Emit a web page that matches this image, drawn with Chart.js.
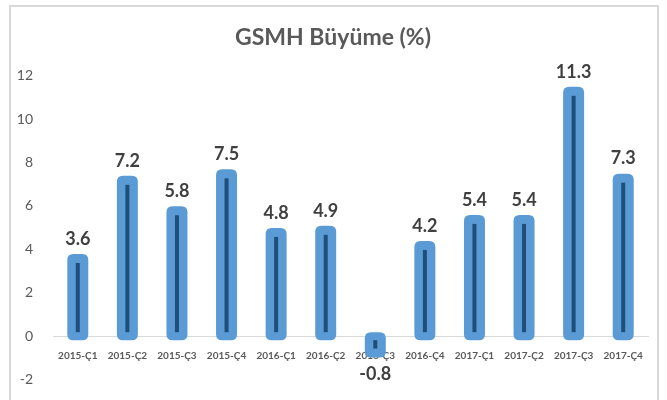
<!DOCTYPE html>
<html>
<head>
<meta charset="utf-8">
<script src="https://cdn.jsdelivr.net/npm/chart.js@4"></script>
<style>
  body { margin: 0; background: #fff; }
  #frame { position: absolute; left: 9px; top: 5px; width: 650px; height: 420px; border: 2px solid #d9d9d9; box-sizing: border-box; }
  #wrap { position: absolute; left: 0; top: 0; width: 667px; height: 400px; }
</style>
</head>
<body>
<div id="frame"></div>
<div id="wrap"><canvas id="chartGsmh" width="667" height="400"></canvas></div>
<script>
const quarters = ['2015-Ç1', '2015-Ç2', '2015-Ç3', '2015-Ç4', '2016-Ç1', '2016-Ç2',
                  '2016-Ç3', '2016-Ç4', '2017-Ç1', '2017-Ç2', '2017-Ç3', '2017-Ç4'];
const growth = [3.6, 7.2, 5.8, 7.5, 4.8, 4.9, -0.8, 4.2, 5.4, 5.4, 11.3, 7.3];
const yTicks = [-2, 0, 2, 4, 6, 8, 10, 12];

const fontFam = 'Lato, "Open Sans", sans-serif';
const barBlue = '#5b9bd5';
const darkBlue = '#1f4e79';

function roundRect(c, x, y, w, h, r) {
  c.beginPath();
  c.moveTo(x + r, y);
  c.lineTo(x + w - r, y);
  c.quadraticCurveTo(x + w, y, x + w, y + r);
  c.lineTo(x + w, y + h - r);
  c.quadraticCurveTo(x + w, y + h, x + w - r, y + h);
  c.lineTo(x + r, y + h);
  c.quadraticCurveTo(x, y + h, x, y + h - r);
  c.lineTo(x, y + r);
  c.quadraticCurveTo(x, y, x + r, y);
  c.closePath();
}

// glow around each bar + dark core line + value labels
const barStyle = {
  id: 'barStyle',
  beforeDatasetsDraw(chart) {
    const c = chart.ctx;
    const meta = chart.getDatasetMeta(0);
    c.save();
    c.fillStyle = barBlue;
    meta.data.forEach((bar) => {
      const top = Math.min(bar.y, bar.base) - 4;
      const bot = Math.max(bar.y, bar.base) + 4;
      roundRect(c, bar.x - bar.width / 2 - 4, top, bar.width + 8, bot - top, 6);
      c.fill();
    });
    c.restore();
  },
  afterDatasetsDraw(chart) {
    const c = chart.ctx;
    const meta = chart.getDatasetMeta(0);
    c.save();
    c.fillStyle = darkBlue;
    meta.data.forEach((bar, i) => {
      const neg = growth[i] < 0;
      const top = neg ? bar.base + 4 : bar.y + 5;
      const bot = neg ? bar.y - 5 : bar.base - 4;
      c.fillRect(bar.x - 2, top, 4, bot - top);
    });
    c.fillStyle = '#404040';
    c.font = 'bold 18px ' + fontFam;
    c.textAlign = 'center';
    meta.data.forEach((bar, i) => {
      const neg = growth[i] < 0;
      c.textBaseline = neg ? 'top' : 'bottom';
      c.fillText(growth[i].toFixed(1), bar.x, neg ? bar.y + 12 : bar.y - 10);
    });
    c.restore();
  }
};

const ctx = document.getElementById('chartGsmh').getContext('2d');
const myChart = new Chart(ctx, {
  type: 'bar',
  data: {
    labels: quarters,
    datasets: [{
      label: 'GSMH Büyüme (%)',
      data: growth,
      backgroundColor: barBlue,
      barThickness: 13,
      borderRadius: 2,
      borderSkipped: false
    }]
  },
  options: {
    responsive: false,
    animation: false,
    layout: { padding: { left: 18, right: 19, top: 0, bottom: 16 } },
    plugins: {
      legend: { display: false },
      tooltip: { enabled: false },
      title: {
        display: true,
        text: 'GSMH Büyüme (%)',
        color: '#595959',
        font: { family: fontFam, size: 23, weight: 'bold' },
        padding: { top: 24, bottom: 24 }
      }
    },
    scales: {
      x: {
        position: { y: 0 },
        grid: { display: false },
        border: { color: '#d9d9d9', width: 1 },
        ticks: {
          color: '#595959',
          font: { family: fontFam, size: 10, weight: 'bold' },
          maxRotation: 0,
          padding: 6
        }
      },
      y: {
        min: -2,
        max: 12,
        afterBuildTicks: (axis) => { axis.ticks = yTicks.map(v => ({ value: v })); },
        afterFit: (axis) => { axis.width = 35; },
        grid: { display: false },
        border: { display: false },
        ticks: {
          color: '#595959',
          font: { family: fontFam, size: 14 },
          padding: 12
        }
      }
    }
  },
  plugins: [barStyle]
});
</script>
</body>
</html>
